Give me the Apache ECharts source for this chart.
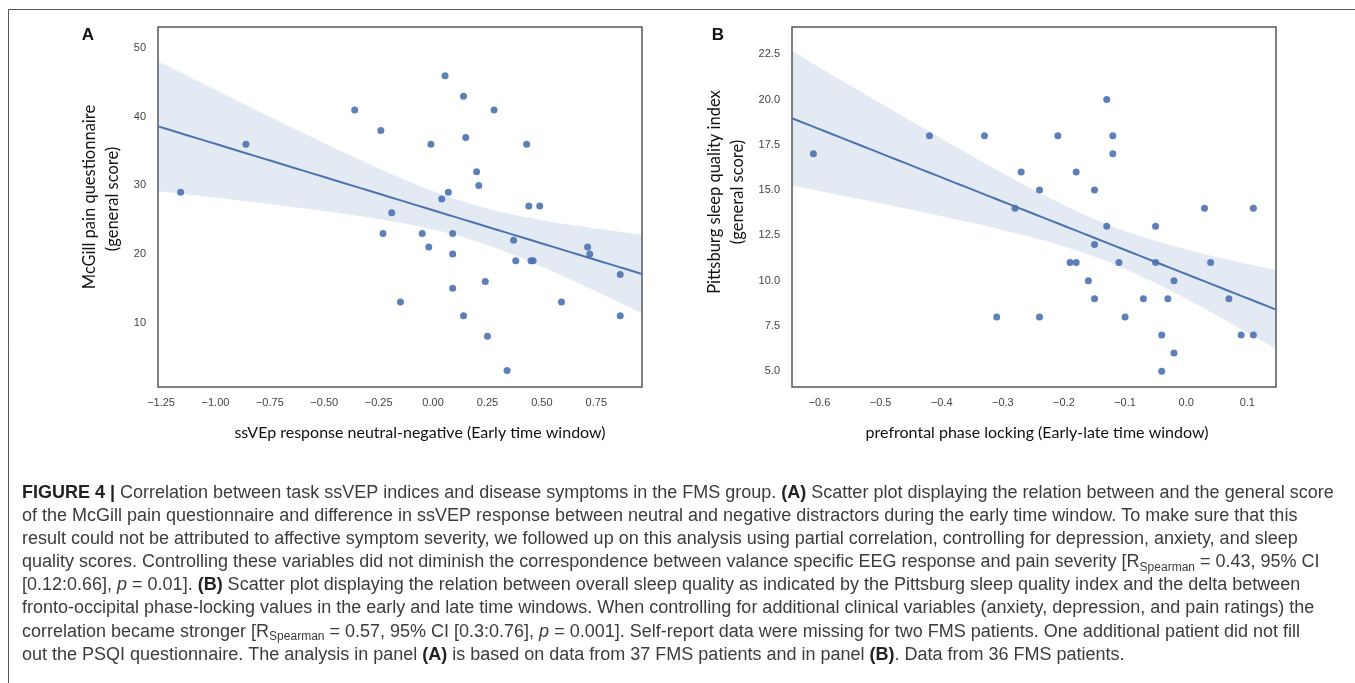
<!DOCTYPE html>
<html>
<head>
<meta charset="utf-8">
<script src="https://cdn.jsdelivr.net/npm/echarts@6/dist/echarts.min.js"></script>
<style>
  html, body { margin: 0; padding: 0; background: #fff; }
  #chart { width: 1355px; height: 683px; }
</style>
</head>
<body>
<div id="chart"></div>
<script>
// panel A: ssVEp difference vs McGill score
const ssvepA = [-1.16, -0.86, -0.36, -0.24, -0.23, -0.19, -0.15, -0.05, -0.02, -0.01,
  0.055, 0.04, 0.07, 0.09, 0.09, 0.09, 0.14, 0.15, 0.14, 0.20, 0.21, 0.28, 0.24, 0.25,
  0.34, 0.43, 0.44, 0.49, 0.37, 0.38, 0.45, 0.46, 0.59, 0.71, 0.72, 0.86, 0.86]
const mcgillA = [29, 36, 41, 38, 23, 26, 13, 23, 21, 36,
  46, 28, 29, 23, 20, 15, 43, 37, 11, 32, 30, 41, 16, 8,
  3, 36, 27, 27, 22, 19, 19, 19, 13, 21, 20, 17, 11]
const xTicksA = [-1.25, -1.0, -0.75, -0.5, -0.25, 0, 0.25, 0.5, 0.75]
const yTicksA = [10, 20, 30, 40, 50]

// panel B: prefrontal phase locking vs PSQI
const phaseB = [-0.61, -0.42, -0.33, -0.27, -0.24, -0.28, -0.31, -0.24, -0.13, -0.21,
  -0.12, -0.12, -0.18, -0.15, 0.03, 0.11, -0.13, -0.05, -0.15, -0.19, -0.18, -0.11,
  -0.05, 0.04, -0.16, -0.02, -0.15, -0.07, -0.03, 0.07, -0.10, -0.04, 0.09, 0.11, -0.02, -0.04]
const psqiB = [17, 18, 18, 16, 15, 14, 8, 8, 20, 18,
  18, 17, 16, 15, 14, 14, 13, 13, 12, 11, 11, 11,
  11, 11, 10, 10, 9, 9, 9, 9, 8, 7, 7, 7, 6, 5]
const xTicksB = [-0.6, -0.5, -0.4, -0.3, -0.2, -0.1, 0, 0.1]
const yTicksB = [5, 7.5, 10, 12.5, 15, 17.5, 20, 22.5]

const rangeA = { x: [-1.264, 0.96], y: [0.6, 53.1] }
const rangeB = { x: [-0.645, 0.147], y: [4.13, 24.0] }

const BLUE = '#4C72B0'
const minus = (v, d) => (v < 0 ? '\u2212' : '') + Math.abs(v).toFixed(d)

// least squares fit with a confidence band (bootstrap in the original is narrower than t)
function regress(xs, ys, x0, x1, t) {
  const n = xs.length
  const mx = xs.reduce((a, b) => a + b, 0) / n
  const my = ys.reduce((a, b) => a + b, 0) / n
  let sxx = 0, sxy = 0
  for (let i = 0; i < n; i++) {
    sxx += (xs[i] - mx) ** 2
    sxy += (xs[i] - mx) * (ys[i] - my)
  }
  const b = sxy / sxx
  const a = my - b * mx
  let ss = 0
  for (let i = 0; i < n; i++) ss += (ys[i] - a - b * xs[i]) ** 2
  const s = Math.sqrt(ss / (n - 2))
  const line = [], upper = [], lower = []
  for (let k = 0; k <= 60; k++) {
    const x = x0 + (x1 - x0) * k / 60
    const yh = a + b * x
    const se = s * Math.sqrt(1 / n + (x - mx) ** 2 / sxx)
    line.push([x, yh])
    upper.push([x, yh + t * se])
    lower.push([x, yh - t * se])
  }
  return { line, upper, lower }
}

const fitA = regress(ssvepA, mcgillA, rangeA.x[0], rangeA.x[1], 1.6)
const fitB = regress(phaseB, psqiB, rangeB.x[0], rangeB.x[1], 1.72)

function bandSeries(fit, idx) {
  return {
    type: 'custom',
    xAxisIndex: idx,
    yAxisIndex: idx,
    data: [[fit.line[0][0], fit.line[0][1]]],
    silent: true,
    z: 1,
    renderItem: (params, api) => {
      const pts = fit.upper.map(p => api.coord(p))
        .concat(fit.lower.slice().reverse().map(p => api.coord(p)))
      return { type: 'polygon', shape: { points: pts }, style: { fill: 'rgba(76,114,176,0.15)' } }
    }
  }
}

function axisPair(range, xt, yt, xd, yd, idx) {
  const common = {
    axisLine: { show: false },
    axisTick: { show: false },
    splitLine: { show: false }
  }
  return {
    x: Object.assign({
      type: 'value', gridIndex: idx, min: range.x[0], max: range.x[1],
      axisLabel: {
        customValues: xt, formatter: v => minus(v, xd),
        color: '#444', fontSize: 11, fontFamily: 'Liberation Sans', margin: 10
      }
    }, common),
    y: Object.assign({
      type: 'value', gridIndex: idx, min: range.y[0], max: range.y[1],
      axisLabel: {
        customValues: yt, formatter: v => minus(v, yd),
        color: '#444', fontSize: 11, fontFamily: 'Liberation Sans', margin: 12
      }
    }, common)
  }
}

const axA = axisPair(rangeA, xTicksA, yTicksA, 2, 0, 0)
const axB = axisPair(rangeB, xTicksB, yTicksB, 1, 1, 1)

const captionLines = [
  '{b|FIGURE 4 |} Correlation between task ssVEP indices and disease symptoms in the FMS group. {b|(A)} Scatter plot displaying the relation between and the general score',
  'of the McGill pain questionnaire and difference in ssVEP response between neutral and negative distractors during the early time window. To make sure that this',
  'result could not be attributed to affective symptom severity, we followed up on this analysis using partial correlation, controlling for depression, anxiety, and sleep',
  'quality scores. Controlling these variables did not diminish the correspondence between valance specific EEG response and pain severity [R{sub|Spearman} = 0.43, 95% CI',
  '[0.12:0.66], {i|p} = 0.01]. {b|(B)} Scatter plot displaying the relation between overall sleep quality as indicated by the Pittsburg sleep quality index and the delta between',
  'fronto-occipital phase-locking values in the early and late time windows. When controlling for additional clinical variables (anxiety, depression, and pain ratings) the',
  'correlation became stronger [R{sub|Spearman} = 0.57, 95% CI [0.3:0.76], {i|p} = 0.001]. Self-report data were missing for two FMS patients. One additional patient did not fill',
  'out the PSQI questionnaire. The analysis in panel {b|(A)} is based on data from 37 FMS patients and in panel {b|(B)}. Data from 36 FMS patients.'
]

const capFont = 'Liberation Sans'
const capSize = 18
const caption = captionLines.map((t, i) => ({
  type: 'text',
  left: 22,
  top: 484 + i * 23.1,
  style: {
    text: t,
    fill: '#3c3c3c',
    font: capSize + 'px "' + capFont + '"',
    rich: {
      b: { fontWeight: 'bold', fontSize: capSize, fontFamily: capFont, fill: '#222', lineHeight: 22 },
      i: { fontStyle: 'italic', fontSize: capSize, fontFamily: capFont, lineHeight: 22 },
      sub: { fontSize: 12, fontFamily: capFont, verticalAlign: 'bottom', lineHeight: 22 }
    }
  }
}))

function label(text, x, y, opts) {
  return {
    type: 'text', x, y,
    style: Object.assign({ text, fill: '#111', font: '16px Lato', align: 'center', verticalAlign: 'middle' }, opts || {})
  }
}

const vertical = g => Object.assign(g, { rotation: Math.PI / 2 })

const chart = echarts.init(document.getElementById('chart'), null, { renderer: 'canvas' })
chart.setOption({
  animation: false,
  backgroundColor: '#fff',
  grid: [
    { left: 158, top: 27, width: 484, height: 360, show: true, borderColor: '#555', borderWidth: 1.5, backgroundColor: 'transparent' },
    { left: 792, top: 27, width: 484, height: 360, show: true, borderColor: '#555', borderWidth: 1.5, backgroundColor: 'transparent' }
  ],
  xAxis: [axA.x, axB.x],
  yAxis: [axA.y, axB.y],
  series: [
    bandSeries(fitA, 0),
    { type: 'line', xAxisIndex: 0, yAxisIndex: 0, data: fitA.line, showSymbol: false, z: 2,
      lineStyle: { color: BLUE, width: 2 } },
    { type: 'scatter', xAxisIndex: 0, yAxisIndex: 0, data: ssvepA.map((x, i) => [x, mcgillA[i]]),
      symbolSize: 7, z: 3, itemStyle: { color: BLUE, opacity: 0.9 } },
    bandSeries(fitB, 1),
    { type: 'line', xAxisIndex: 1, yAxisIndex: 1, data: fitB.line, showSymbol: false, z: 2,
      lineStyle: { color: BLUE, width: 2 } },
    { type: 'scatter', xAxisIndex: 1, yAxisIndex: 1, data: phaseB.map((x, i) => [x, psqiB[i]]),
      symbolSize: 7, z: 3, itemStyle: { color: BLUE, opacity: 0.9 } }
  ],
  graphic: [
    { type: 'rect', shape: { x: 8.5, y: 9.5, width: 1400, height: 800 },
      style: { fill: 'none', stroke: '#555', lineWidth: 1 }, silent: true },
    label('A', 88, 35, { font: 'bold 17px "Liberation Sans"' }),
    label('B', 718, 35, { font: 'bold 17px "Liberation Sans"' }),
    vertical(label('McGill pain questionnaire', 90, 197, { font: '16.5px Lato' })),
    vertical(label('(general score)', 113, 199, { font: '16.5px Lato' })),
    label('ssVEp response neutral-negative (Early time window)', 420, 433),
    label('prefrontal phase locking (Early-late time window)', 1037, 433),
    vertical(label('Pittsburg sleep quality index', 715, 192, { font: '16.5px Lato' })),
    vertical(label('(general score)', 738, 192, { font: '16.5px Lato' }))
  ].concat(caption)
})
</script>
</body>
</html>
